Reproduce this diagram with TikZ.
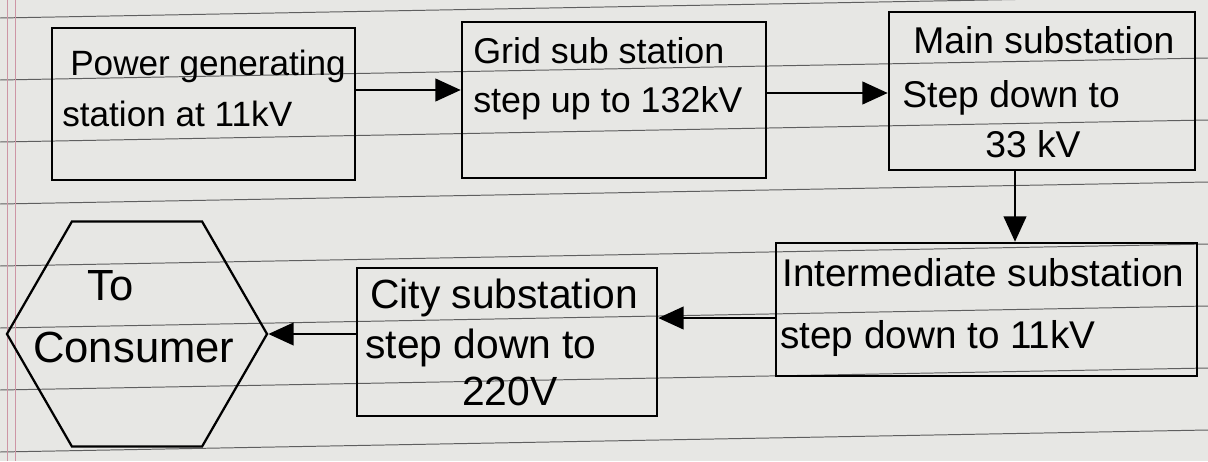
\documentclass[tikz,border=0pt]{standalone}
\usepackage{fontspec}
\setmainfont{Liberation Sans}
\usetikzlibrary{arrows.meta,fit,shapes.geometric}
\definecolor{paper}{RGB}{231,231,228}
\definecolor{ruling}{RGB}{95,95,95}
\definecolor{margin}{RGB}{205,150,165}
\newcommand{\fs}[1]{\fontsize{#1}{#1}\selectfont}
\tikzset{
  stagebox/.style={draw, line width=1.8pt, inner sep=0pt},
  endhex/.style={draw, line width=1.6pt, regular polygon, regular polygon sides=6,
    minimum size=6.5cm, inner sep=0pt},
  hand/.style={anchor=base west, inner sep=0pt},
  flow/.style={line width=1.8pt, -{Triangle[length=18pt,width=16pt]}}
}
\begin{document}
\begin{tikzpicture}[x=0.025cm,y=-0.025cm]
\fill[paper] (0,0) rectangle (1208,461);
\useasboundingbox (0,0) rectangle (1208,461);
% ruled paper
\foreach \k in {0,...,7}
  \draw[ruling, line width=0.7pt] (0,18+62*\k) -- (1208,-4+62*\k);
\draw[margin, line width=0.6pt] (7,0) -- (7,461) (15,0) -- (15,461);

% stages
\node[stagebox, fit={(52,28) (355,180)}] (gen) {};
\node[stagebox, fit={(462,22) (766,178)}] (grid) {};
\node[stagebox, fit={(889,12) (1195,170)}] (main) {};
\node[stagebox, fit={(776,243) (1197,376)}] (inter) {};
\node[stagebox, fit={(357,268) (657,416)}] (city) {};
\node[endhex] (cons) at (137,334) {};

% texts
\node[hand, font=\fs{25}] (gen1) at (70,75) {Power generating};
\node[hand, font=\fs{25}] (gen2) at (62,126) {station at 11kV};
\node[hand, font=\fs{25.5}] (grid1) at (473,63) {Grid sub station};
\node[hand, font=\fs{25.5}] (grid2) at (473,112) {step up to 132kV};
\node[hand, font=\fs{26.5}] (main1) at (913,53) {Main substation};
\node[hand, font=\fs{26.5}] (main2) at (902,107) {Step down to};
\node[hand, font=\fs{26.5}] (main3) at (985,157) {33 kV};
\node[hand, font=\fs{27.5}] (inter1) at (782,286) {Intermediate substation};
\node[hand, font=\fs{27.5}] (inter2) at (780,348) {step down to 11kV};
\node[hand, font=\fs{29}] (city1) at (370,308) {City substation};
\node[hand, font=\fs{29}] (city2) at (365,358) {step down to};
\node[hand, font=\fs{29}] (city3) at (462,405) {220V};
\node[hand, font=\fs{31}] (cons1) at (87,300) {To};
\node[hand, font=\fs{31}] (cons2) at (33,362) {Consumer};

% flow
\draw[flow] (gen.east |- 0,90) -- (grid.west |- 0,90);
\draw[flow] (grid.east |- 0,93) -- (main.west |- 0,93);
\draw[flow] (main.south -| 1015,0) -- (inter.north -| 1015,0);
\draw[flow] (inter.west |- 0,318) -- (city.east |- 0,318);
\draw[flow] (city.west |- cons.east) -- (cons.east);
\end{tikzpicture}
\end{document}
